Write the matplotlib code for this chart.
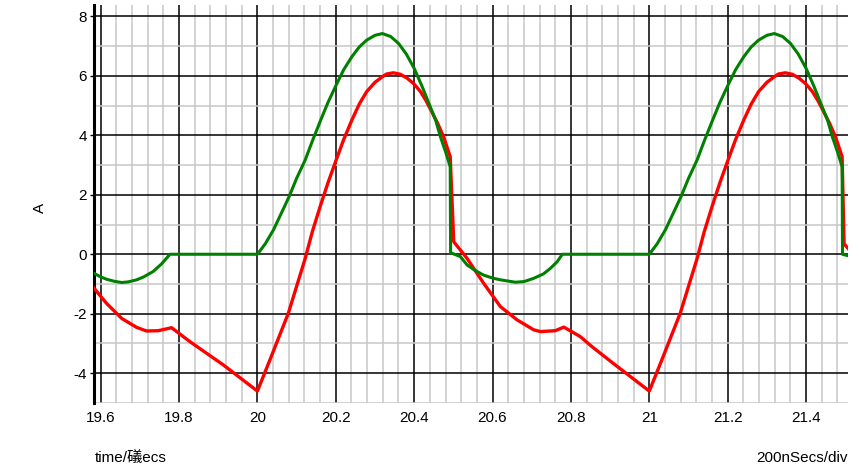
import matplotlib.pyplot as plt
from matplotlib.ticker import AutoMinorLocator

# time in microseconds, current in A
green_t = [19.583, 19.600, 19.615, 19.635, 19.654, 19.670, 19.692, 19.710,
           19.734, 19.755, 19.777, 20.000,
           20.020, 20.041, 20.060, 20.081, 20.100, 20.122, 20.140, 20.160,
           20.180, 20.201, 20.220, 20.241, 20.260, 20.279, 20.300, 20.319,
           20.340, 20.360, 20.380, 20.400, 20.420, 20.441, 20.455, 20.467,
           20.480, 20.492, 20.493, 20.518, 20.535, 20.555, 20.577, 20.600,
           20.620, 20.658, 20.680, 20.705, 20.730, 20.748, 20.765, 20.778,
           21.000,
           21.020, 21.041, 21.060, 21.081, 21.100, 21.122, 21.140, 21.160,
           21.180, 21.201, 21.220, 21.241, 21.260, 21.279, 21.300, 21.319,
           21.340, 21.360, 21.380, 21.400, 21.420, 21.441, 21.455, 21.467,
           21.480, 21.492, 21.493, 21.507]
green_i = [-0.64, -0.76, -0.84, -0.91, -0.95, -0.93, -0.86, -0.76,
           -0.58, -0.33, 0.00, 0.00,
           0.35, 0.82, 1.35, 1.94, 2.55, 3.17, 3.80, 4.46,
           5.10, 5.69, 6.20, 6.64, 6.97, 7.20, 7.36, 7.42,
           7.32, 7.09, 6.73, 6.25, 5.65, 4.96, 4.50, 3.95,
           3.45, 2.94, 0.05, -0.08, -0.36, -0.54, -0.70, -0.80,
           -0.86, -0.94, -0.92, -0.81, -0.66, -0.47, -0.25, 0.00,
           0.00,
           0.35, 0.82, 1.35, 1.94, 2.55, 3.17, 3.80, 4.46,
           5.10, 5.69, 6.20, 6.64, 6.97, 7.20, 7.36, 7.42,
           7.32, 7.09, 6.73, 6.25, 5.65, 4.96, 4.50, 3.95,
           3.45, 2.94, 0.00, -0.05]

red_t = [19.583, 19.615, 19.654, 19.692, 19.717, 19.747, 19.781, 19.828,
         19.913, 20.000, 20.032, 20.079, 20.122, 20.140, 20.160, 20.180,
         20.201, 20.220, 20.241, 20.260, 20.279, 20.300, 20.319, 20.330,
         20.347, 20.365, 20.382, 20.400, 20.416, 20.430, 20.445, 20.460,
         20.475, 20.492, 20.501, 20.535, 20.577, 20.620, 20.663, 20.705,
         20.722, 20.760, 20.782, 20.824, 20.854, 20.913, 21.000, 21.032,
         21.079, 21.122, 21.140, 21.160, 21.180, 21.201, 21.220, 21.241,
         21.260, 21.279, 21.300, 21.319, 21.330, 21.347, 21.365, 21.382,
         21.400, 21.416, 21.430, 21.445, 21.460, 21.475, 21.492, 21.497,
         21.507]
red_i = [-1.14, -1.65, -2.16, -2.46, -2.58, -2.57, -2.47, -2.94,
         -3.72, -4.60, -3.55, -1.98, -0.14, 0.75, 1.60, 2.40,
         3.17, 3.85, 4.51, 5.05, 5.47, 5.78, 5.97, 6.06,
         6.10, 6.05, 5.92, 5.72, 5.47, 5.17, 4.79, 4.40,
         3.95, 3.28, 0.42, -0.14, -0.97, -1.76, -2.21, -2.54,
         -2.60, -2.57, -2.45, -2.77, -3.11, -3.72, -4.60, -3.55,
         -1.98, -0.14, 0.75, 1.60, 2.40, 3.17, 3.85, 4.51,
         5.05, 5.47, 5.78, 5.97, 6.06, 6.10, 6.05, 5.92,
         5.72, 5.47, 5.17, 4.79, 4.40, 3.95, 3.28, 0.35,
         0.20]

x_ticks = [19.6, 19.8, 20.0, 20.2, 20.4, 20.6, 20.8, 21.0, 21.2, 21.4]
x_labels = ["19.6", "19.8", "20", "20.2", "20.4", "20.6", "20.8", "21", "21.2", "21.4"]
y_ticks = [-4, -2, 0, 2, 4, 6, 8]

plt.rcParams['font.family'] = ['Liberation Sans', 'Noto Sans CJK JP', 'DejaVu Sans']

fig = plt.figure(figsize=(8.59, 4.70), dpi=100)
ax = fig.add_axes([0.1094, 0.1426, 0.8778, 0.8468])

ax.plot(red_t, red_i, color='#ff0000', lw=2.4, zorder=3)
ax.plot(green_t, green_i, color='#008000', lw=2.2, zorder=4)

ax.set_xlim(19.583, 21.507)
ax.set_ylim(-5.0, 8.38)

ax.set_xticks(x_ticks)
ax.set_xticklabels(x_labels, fontsize=11)
ax.set_yticks(y_ticks)
ax.set_yticklabels([str(v) for v in y_ticks], fontsize=11)
ax.xaxis.set_minor_locator(AutoMinorLocator(5))
ax.yaxis.set_minor_locator(AutoMinorLocator(2))

# scope style grid: grey minor, black major
ax.grid(which='minor', color='#c8c8c8', lw=1.1, zorder=0)
ax.grid(which='major', color='black', lw=1.1, zorder=1)
ax.set_axisbelow(True)

ax.tick_params(axis='x', which='both', length=0, pad=6)
ax.tick_params(axis='y', which='major', length=3, width=1, pad=2)
ax.tick_params(axis='y', which='minor', length=0)

for side in ['top', 'right', 'bottom']:
    ax.spines[side].set_visible(False)
ax.spines['left'].set_linewidth(2.2)

fig.text(40 / 859, 1 - 208 / 470, "A", rotation=90, fontsize=11,
         ha='center', va='center')
fig.text(95 / 859, 1 - 458 / 470, "time/礒ecs", fontsize=11,
         ha='left', va='center')
fig.text(848 / 859, 1 - 458 / 470, "200nSecs/div", fontsize=11,
         ha='right', va='center')

fig.savefig("out.png", dpi=100)
